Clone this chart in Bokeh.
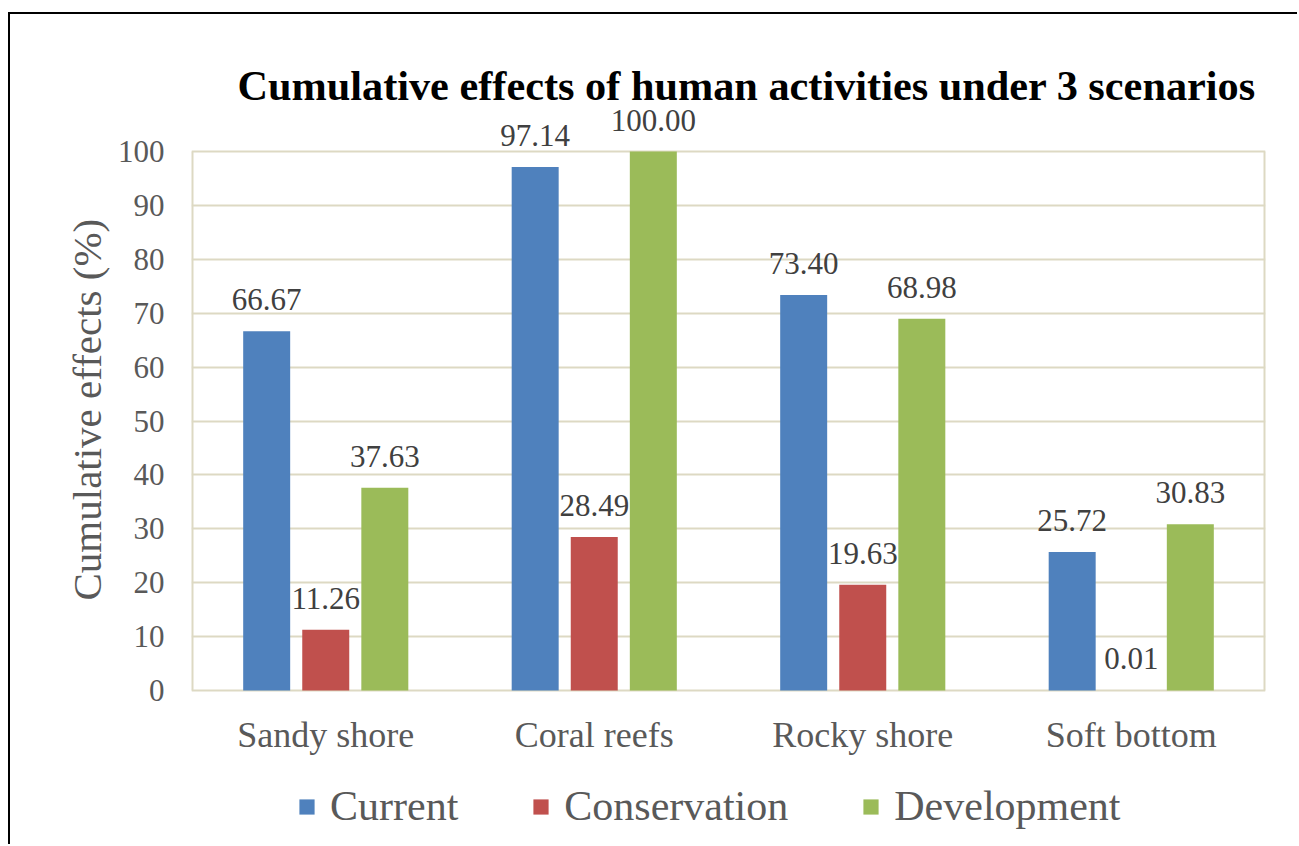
from bokeh.plotting import figure
from bokeh.models import (FactorRange, Range1d, ColumnDataSource, LabelSet, Label,
                          Legend, LegendItem, FixedTicker, Title)
from bokeh.transform import dodge
from bokeh.core.properties import value
from bokeh.embed import file_html
from bokeh.resources import INLINE

# ---- data ----
categories = ["Sandy shore", "Coral reefs", "Rocky shore", "Soft bottom"]
series_names = ["Current", "Conservation", "Development"]
current = [66.67, 97.14, 73.40, 25.72]
conservation = [11.26, 28.49, 19.63, 0.01]
development = [37.63, 100.00, 68.98, 30.83]
y_ticks = [0, 10, 20, 30, 40, 50, 60, 70, 80, 90, 100]
title_text = "Cumulative effects of human activities under 3 scenarios"
y_label_text = "Cumulative effects (%)"

# ---- style ----
FONT = "Liberation Serif"
GRAY = "#595959"
DGRAY = "#404040"
GRID = "#DDD9C3"
colors = ["#4F81BD", "#C0504D", "#9BBB59"]
offsets = [-0.22, 0.0, 0.22]
bar_w = 0.175

src = ColumnDataSource(dict(
    cat=categories,
    Current=current, Conservation=conservation, Development=development,
    Current_t=[f"{v:.2f}" for v in current],
    Conservation_t=[f"{v:.2f}" for v in conservation],
    Development_t=[f"{v:.2f}" for v in development],
))

p = figure(x_range=FactorRange(*categories), y_range=Range1d(-28.94, 125.42),
           width=1289, height=832, output_backend="svg", toolbar_location=None,
           title=None,
           min_border_left=181, min_border_right=34, min_border_top=0,
           min_border_bottom=0, margin=(12, 0, 0, 8),
           styles={"border-left": "2px solid black", "border-top": "2px solid black"})

p.background_fill_color = "white"
p.border_fill_color = "white"
p.outline_line_color = None

p.xgrid.grid_line_color = None
p.ygrid.grid_line_color = GRID
p.ygrid.grid_line_width = 2
p.yaxis.ticker = FixedTicker(ticks=y_ticks)
p.xaxis.fixed_location = y_ticks[0]

# plot-area box sides (from the bottom tick to the top tick)
n = len(categories)
p.segment(x0=[0, n], y0=[y_ticks[0]] * 2, x1=[0, n], y1=[y_ticks[-1]] * 2,
          line_color=GRID, line_width=4)

for ax in (p.xaxis, p.yaxis):
    ax.axis_line_color = None
    ax.major_tick_line_color = None
    ax.minor_tick_line_color = None
    ax.major_tick_out = 0
    ax.major_tick_in = 0
    ax.major_label_text_font = FONT
    ax.major_label_text_color = GRAY
p.xaxis.major_label_text_font_size = "36px"
p.yaxis.major_label_text_font_size = "31px"
p.yaxis.major_label_standoff = 27
p.xaxis.major_label_standoff = 24

items = []
for name, col, off in zip(series_names, colors, offsets):
    r = p.vbar(x=dodge("cat", off, range=p.x_range), top=name, width=bar_w,
               source=src, fill_color=col, line_color=None)
    items.append(LegendItem(label=name, renderers=[r]))
    p.add_layout(LabelSet(x=dodge("cat", off, range=p.x_range), y=name, text=name + "_t",
                          source=src, y_offset=21, text_align="center",
                          text_baseline="alphabetic", text_font=value(FONT),
                          text_font_size="31px", text_color=DGRAY))

legend = Legend(items=items, orientation="horizontal", location=(106, 16),
                label_text_font=FONT, label_text_font_size="42px",
                label_text_color=GRAY, glyph_width=19, glyph_height=19,
                label_standoff=14, spacing=73, padding=0, margin=0,
                border_line_color=None, background_fill_alpha=0)
p.add_layout(legend, "center")

p.add_layout(Label(x=0.171, y=112.2, text=title_text, text_font=FONT,
                   text_font_style="bold", text_font_size="42.3px", text_color="black",
                   text_align="left", text_baseline="alphabetic"))

ytitle = Title(text=y_label_text, align="left", offset=246, text_font=FONT,
               text_font_size="41px", text_color=GRAY, text_font_style="normal")
p.add_layout(ytitle, "left")

open("out.html", "w").write(file_html(p, INLINE))
